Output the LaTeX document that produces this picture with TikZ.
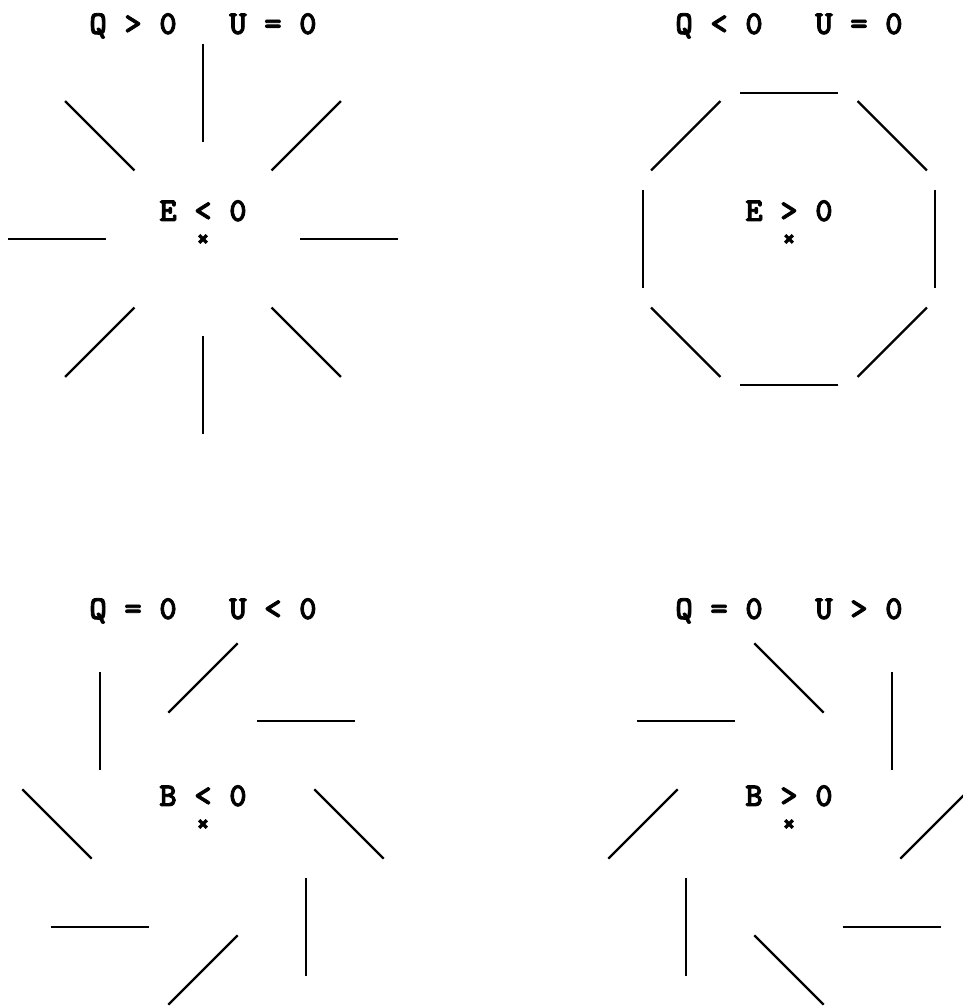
\documentclass[tikz,border=0pt]{standalone}
\usepackage{fontspec}
\newfontfamily\labfont[FakeBold=2.5]{lmmonolt10-bold.otf}
\usepackage{tikz}
\usetikzlibrary{calc}
\tikzset{
  seg/.style={draw=black, line width=2.4pt},
  cross/.style={draw=black, line width=3.2pt},
  lbl/.style={font=\fontsize{33.3}{40}\selectfont\labfont,
              anchor=base, inner sep=0pt}
}
\begin{document}
\begin{tikzpicture}[x=1pt,y=1pt]
  \useasboundingbox (0,0) rectangle (963,1007);
  % field centres
  \coordinate (pE1) at (203,768);
  \coordinate (pE2) at (789,768);
  \coordinate (pB1) at (203,183);
  \coordinate (pB2) at (789,183);

  % eight bars round each centre, turned by \d
  \foreach \c/\d in {pE1/0,pE2/90,pB1/-45,pB2/45} {
    \foreach \a in {0,45,...,315} {
      \pgfmathsetmacro{\ta}{\a+\d}
      \pgfmathsetmacro{\tb}{\a+\d+180}
      \draw[seg] ($(\c)+(\a:146)+(\ta:49)$) -- ($(\c)+(\a:146)+(\tb:49)$);
    }
    \draw[cross] ($(\c)+(-3.8,-3.8)$) -- ($(\c)+(3.8,3.8)$)
                 ($(\c)+(-3.8,3.8)$) -- ($(\c)+(3.8,-3.8)$);
  }

  \node[lbl] (tE1) at ($(pE1)+(0,205)$) {Q > 0\ \ \ U = 0};
  \node[lbl] (tE2) at ($(pE2)+(0,205)$) {Q < 0\ \ \ U = 0};
  \node[lbl] (tB1) at ($(pB1)+(0,205)$) {Q = 0\ \ \ U < 0};
  \node[lbl] (tB2) at ($(pB2)+(0,205)$) {Q = 0\ \ \ U > 0};

  \node[lbl] (mE1) at ($(pE1)+(0,18)$) {E < 0};
  \node[lbl] (mE2) at ($(pE2)+(0,18)$) {E > 0};
  \node[lbl] (mB1) at ($(pB1)+(0,18)$) {B < 0};
  \node[lbl] (mB2) at ($(pB2)+(0,18)$) {B > 0};
\end{tikzpicture}
\end{document}
